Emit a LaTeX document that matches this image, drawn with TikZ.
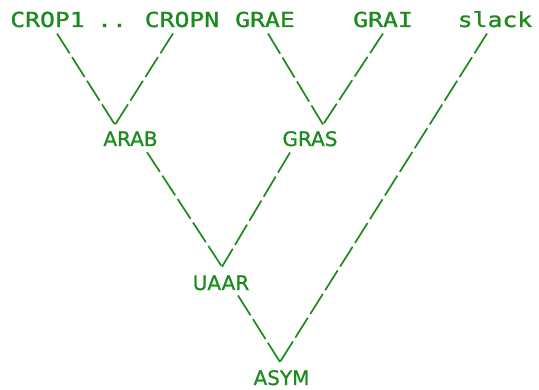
\documentclass[tikz,border=0pt]{standalone}
\usepackage{fontspec}
\setmainfont{DejaVu Sans}
\newfontfamily\leafmono[FakeStretch=1.2,FakeBold=1.2]{DejaVu Sans Mono}
\newfontfamily\innersans[FakeBold=1.0]{DejaVu Sans}
\usetikzlibrary{calc}
\definecolor{treegreen}{RGB}{28,138,28}
\tikzset{
  leaf/.style={inner sep=0pt, anchor=base, text=treegreen,
    font=\leafmono\fontsize{20.6}{24}\selectfont},
  inner/.style={inner sep=0pt, anchor=base, text=treegreen,
    font=\innersans\fontsize{20}{24}\selectfont},
  link/.style={draw=treegreen, line width=1.7pt,
    dash pattern=on 23.5pt off 4.5pt}
}
\begin{document}
\begin{tikzpicture}[x=1pt, y=-1pt]
  \useasboundingbox (0,0) rectangle (539,390);

  % leaves on the top row
  \node[leaf] (crop1) at (47.5,27) {CROP1};
  \node[leaf] (dots)  at (112,27)  {..};
  \node[leaf] (cropn) at (182,27)  {CROPN};
  \node[leaf] (grae)  at (265,27)  {GRAE};
  \node[leaf] (grai)  at (383,27)  {GRAI};
  \node[leaf] (slack) at (495,27)  {slack};

  % inner groups
  \node[inner] (arab) at (130.5,146) {ARAB};
  \node[inner] (gras) at (310,146)   {GRAS};
  \node[inner] (uaar) at (221,290)   {UAAR};
  \node[inner] (asym) at (281.5,385) {ASYM};

  % branches
  \draw[link] ($(crop1.south)+(9.5,6)$) -- ($(arab.north)+(-15.5,-6.4)$);
  \draw[link] ($(cropn.south)+(-9,6)$)  -- ($(arab.north)+(-15.5,-6.4)$);
  \draw[link] ($(grae.south)+(3,6)$)    -- ($(gras.north)+(13,-6.4)$);
  \draw[link] ($(grai.south)+(0,6)$)    -- ($(gras.north)+(13,-6.4)$);
  \draw[link] ($(arab.south)+(16.5,6)$) -- ($(uaar.north)+(1,-8.4)$);
  \draw[link] ($(gras.south)+(-20,6)$)  -- ($(uaar.north)+(1,-8.4)$);
  \draw[link] ($(uaar.south)+(17,5)$)   -- ($(asym.north)+(-1.5,-8)$);
  \draw[link] ($(slack.south)+(-8,6)$)  -- ($(asym.north)+(-1.5,-8)$);
\end{tikzpicture}
\end{document}
